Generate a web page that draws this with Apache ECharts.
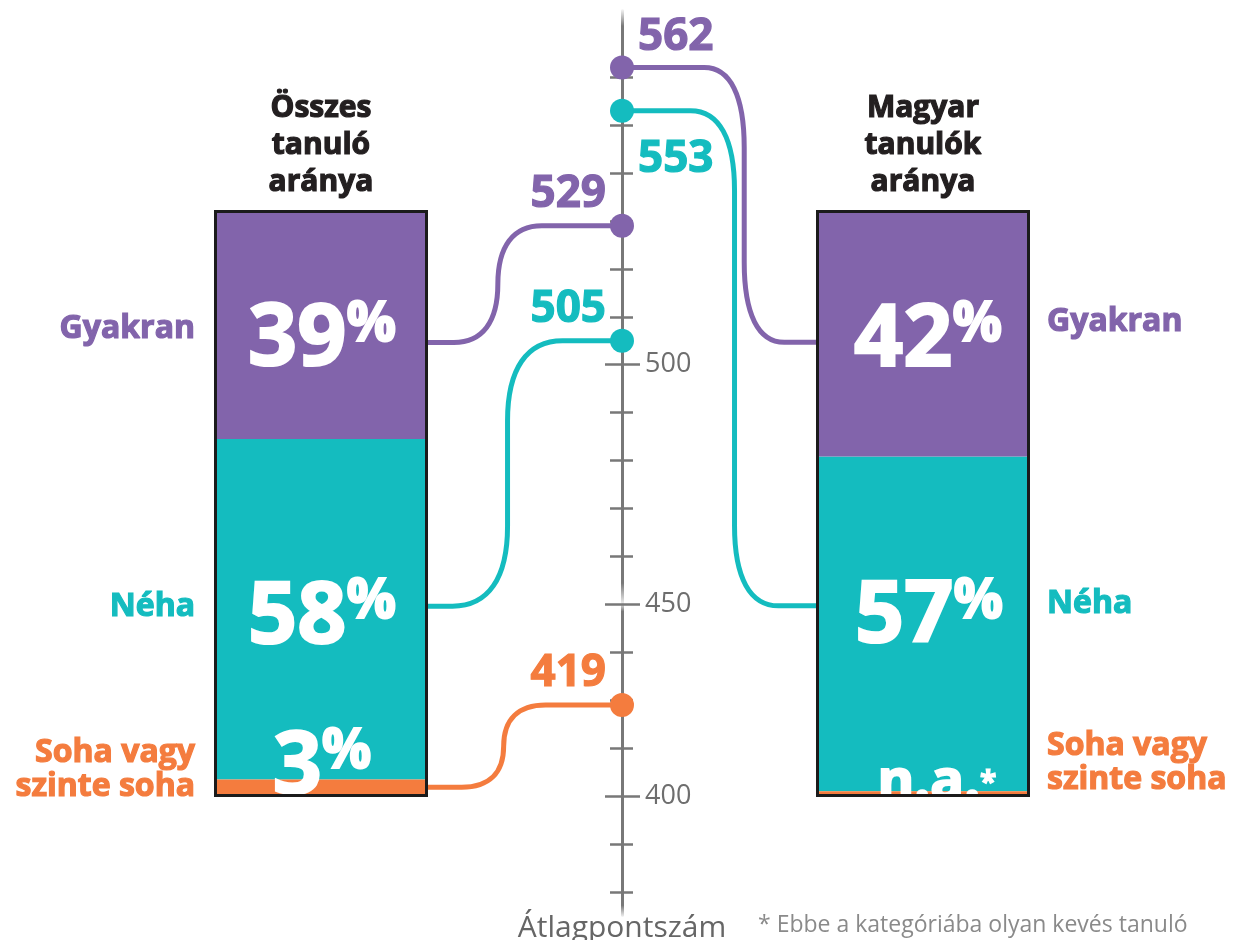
<!DOCTYPE html>
<html>
<head>
<meta charset="utf-8">
<script src="https://cdn.jsdelivr.net/npm/echarts@6.0.0/dist/echarts.min.js"></script>
<style>
html, body { margin: 0; padding: 0; background: #fff; }
#chart { width: 1233px; height: 940px; }
</style>
</head>
<body>
<div id="chart"></div>
<script>
// bars: all students vs hungarian-speaking students
var groupNames = ['Összes\ntanuló\naránya', 'Magyar\ntanulók\naránya'];
// categories, bottom to top of the stack
var categoryNames = ['Soha vagy\nszinte soha', 'Néha', 'Gyakran'];

// share of students (%), [all, hungarian]
var shareNever = [3, 1];
var shareSometimes = [58, 57];
var shareOften = [39, 42];
var shareNotAvailable = [[false, false, false], [true, false, false]];

// average score, [all, hungarian]
var scoreNever = [419, null];
var scoreSometimes = [505, 553];
var scoreOften = [529, 562];

// score axis
var scoreAxisLabels = [400, 450, 500];
var scoreAxisTicks = [380, 390, 400, 410, 420, 430, 450, 460, 470, 480, 490, 500, 510, 520, 530, 540, 550, 560];
var footnote = '* Ebbe a kategóriába olyan kevés tanuló';

// ---- layout / style ----
var F = '"Open Sans", "Noto Sans", sans-serif';
var COLORS = ['#f47c3e', '#14bcbf', '#8264ab'];
var GREY = '#787878';
var BAR_W = 214;
var AXIS_X = 0.5;
var SCORE_MIN = 375.2, SCORE_MAX = 574;
var SCORE_BREAKS = [{ start: 440, end: 450, gap: 0 }];
var PCT_MIN = -20.1, PCT_MAX = 134.07;

// [group][category] label offsets
var PCT_LABEL_SHIFT = [[[1, -20], [1, 9], [1, 16]], [[14, -11], [6, -6], [5, 8]]];
var NAME_LABEL_SHIFT = [[-18, -2, 4], [-31, -20, -11]];
var SCORE_LABEL = [[['left', -32], ['left', -31], ['left', -31]], [null, ['right', 49], ['right', -30]]];
var CONNECTOR = [
    [{ dy: -1, frac: 0.39, w: 42 }, { dy: -3, frac: 0.41, w: 55 }, { dy: 18, frac: 0.36, w: 44 }],
    [null, { dy: -18, frac: 0.58, w: 44 }, { dy: 9, frac: 0.63, w: 40 }]
];

var shares = [shareNever, shareSometimes, shareOften];
var scores = [scoreNever, scoreSometimes, scoreOften];

var chart = echarts.init(document.getElementById('chart'));

function segMid(g, c) {
    var base = 0;
    for (var i = 0; i < c; i++) base += shares[i][g];
    return base + shares[c][g] / 2;
}

function sPath(p0, p1, xc, w) {
    var y0 = p0[1], y1 = p1[1];
    var dir = y1 > y0 ? 1 : -1;
    var ry = Math.min(Math.abs(y1 - y0) / 2, 80);
    return 'M' + p0[0] + ' ' + y0 +
        ' L' + (xc - w) + ' ' + y0 +
        ' C' + (xc - 0.35 * w) + ' ' + y0 + ' ' + xc + ' ' + (y0 + dir * 0.35 * ry) + ' ' + xc + ' ' + (y0 + dir * ry) +
        ' L' + xc + ' ' + (y1 - dir * ry) +
        ' C' + xc + ' ' + (y1 - dir * 0.35 * ry) + ' ' + (xc + 0.35 * w) + ' ' + y1 + ' ' + (xc + w) + ' ' + y1 +
        ' L' + p1[0] + ' ' + y1;
}

function heavy(color, size) {
    return {
        fontFamily: F, fontWeight: 'bold', fontSize: size, color: color,
        textBorderColor: color, textBorderWidth: size > 50 ? 2.2 : 1.2
    };
}

var RICH_PCT = {
    big: Object.assign(heavy('#fff', 86), { lineHeight: 86 }),
    pct: Object.assign(heavy('#fff', 55), { lineHeight: 72, verticalAlign: 'top' }),
    na: Object.assign(heavy('#fff', 56), { lineHeight: 56 }),
    star: Object.assign(heavy('#fff', 30), {})
};

var series = [];

// coloured stacked segments
shares.forEach(function (arr, c) {
    series.push({
        type: 'bar', name: categoryNames[c], stack: 'share',
        xAxisIndex: 0, yAxisIndex: 0, barWidth: BAR_W, barGap: '-100%',
        z: c === 0 ? 3 : 2, silent: true,
        itemStyle: { color: COLORS[c] },
        label: { show: true, position: 'inside', rich: RICH_PCT },
        data: arr.map(function (v, g) {
            return {
                value: v,
                label: {
                    offset: PCT_LABEL_SHIFT[g][c],
                    formatter: shareNotAvailable[g][c] ? '{na|n.a.}{star|*}' : '{big|' + v + '}{pct|%}'
                }
            };
        })
    });
});

// category names beside the bars
shares.forEach(function (arr, c) {
    series.push({
        type: 'bar', stack: 'names',
        xAxisIndex: 0, yAxisIndex: 0, barWidth: BAR_W, barGap: '-100%',
        z: 1, silent: true,
        itemStyle: { color: 'rgba(0,0,0,0)' },
        label: Object.assign(heavy(COLORS[c], 32), {
            show: true, formatter: categoryNames[c], lineHeight: 34
        }),
        data: arr.map(function (v, g) {
            return {
                value: v,
                label: {
                    position: g === 0 ? 'left' : 'right',
                    distance: g === 0 ? 19 : 17,
                    offset: [0, NAME_LABEL_SHIFT[g][c]]
                }
            };
        })
    });
});

// black frame round each bar
series.push({
    type: 'bar', xAxisIndex: 0, yAxisIndex: 0, barWidth: BAR_W, barGap: '-100%',
    z: 5, silent: true,
    itemStyle: { color: 'rgba(0,0,0,0)', borderColor: '#1b1b1b', borderWidth: 3 },
    data: groupNames.map(function (n, g) {
        return shares.reduce(function (s, a) { return s + a[g]; }, 0);
    })
});

// connectors and score points
var pointData = [];
groupNames.forEach(function (n, g) {
    scores.forEach(function (arr, c) {
        if (arr[g] != null) pointData.push({ g: g, c: c, score: arr[g] });
    });
});

series.push({
    type: 'custom', xAxisIndex: 1, yAxisIndex: 1, z: 6, silent: true,
    encode: { x: 0, y: 1 },
    data: pointData.map(function (p) { return [AXIS_X, p.score, p.g, p.c]; }),
    renderItem: function (params, api) {
        var g = api.value(2), c = api.value(3);
        var axisPt = api.coord([AXIS_X, api.value(1)]);
        var barPt = chart.convertToPixel({ seriesIndex: 0 }, [g, segMid(g, c)]);
        var lay = CONNECTOR[g][c];
        var by = barPt[1] + lay.dy;
        var p0, p1;
        if (g === 0) {
            p0 = [barPt[0] + BAR_W / 2, by];
            p1 = axisPt;
        } else {
            p0 = axisPt;
            p1 = [barPt[0] - BAR_W / 2, by];
        }
        var xc = p0[0] + lay.frac * (p1[0] - p0[0]);
        return {
            type: 'path',
            shape: { pathData: sPath(p0, p1, xc, lay.w) },
            style: { stroke: COLORS[c], lineWidth: 5, fill: 'none' }
        };
    }
});

series.push({
    type: 'scatter', xAxisIndex: 1, yAxisIndex: 1, symbolSize: 24, z: 7, silent: true,
    itemStyle: { opacity: 1 },
    data: pointData.map(function (p) {
        var lab = SCORE_LABEL[p.g][p.c];
        return {
            value: [AXIS_X, p.score],
            itemStyle: { color: COLORS[p.c], opacity: 1 },
            label: Object.assign(heavy(COLORS[p.c], 44), {
                show: true, position: lab[0], distance: 4, offset: [0, lab[1]],
                formatter: String(p.score)
            })
        };
    })
});

function scoreAxis(extra) {
    var base = {
        type: 'value', gridIndex: 0, position: 'left', offset: -602,
        min: SCORE_MIN, max: SCORE_MAX,
        breaks: SCORE_BREAKS,
        breakArea: { show: false },
        splitLine: { show: false },
        axisLine: { show: false },
        axisTick: { show: false },
        axisLabel: { show: false }
    };
    for (var k in extra) base[k] = extra[k];
    return base;
}

var tickStyle = { color: GREY, width: 2.5 };

var option = {
    animation: false,
    backgroundColor: '#fff',
    grid: { left: 20, width: 1204, top: 10, height: 905, outerBoundsMode: 'none' },
    xAxis: [
        {
            type: 'category', gridIndex: 0, position: 'top', data: groupNames,
            axisLine: { show: false }, axisTick: { show: false }, splitLine: { show: false },
            axisLabel: Object.assign(heavy('#231f20', 30), {
                inside: true, margin: 80, lineHeight: 37
            })
        },
        { type: 'value', gridIndex: 0, min: 0, max: 1, show: false }
    ],
    yAxis: [
        { type: 'value', gridIndex: 0, min: PCT_MIN, max: PCT_MAX, show: false },
        scoreAxis({
            name: 'Átlagpontszám', nameLocation: 'start', nameGap: 13,
            nameTextStyle: { fontFamily: F, fontSize: 30, color: '#666', align: 'center', verticalAlign: 'middle' },
            axisLine: {
                show: true,
                lineStyle: {
                    width: 3,
                    color: new echarts.graphic.LinearGradient(0, 0, 0, 1, [
                        { offset: 0, color: 'rgba(120,120,120,0)' },
                        { offset: 0.03, color: GREY },
                        { offset: 0.96, color: GREY },
                        { offset: 1, color: 'rgba(120,120,120,0)' }
                    ])
                }
            },
            axisTick: { show: true, length: 12, customValues: scoreAxisTicks, lineStyle: tickStyle }
        }),
        scoreAxis({
            axisTick: { show: true, inside: true, length: 11, customValues: scoreAxisTicks, lineStyle: tickStyle }
        }),
        scoreAxis({
            axisTick: { show: true, length: 17, customValues: scoreAxisLabels, lineStyle: tickStyle }
        }),
        scoreAxis({
            axisTick: { show: true, inside: true, length: 18, customValues: scoreAxisLabels, lineStyle: tickStyle },
            axisLabel: {
                show: true, inside: true, margin: 23, customValues: scoreAxisLabels,
                color: '#6e6e6e', fontFamily: F, fontSize: 27
            }
        })
    ],
    graphic: [{
        type: 'text', left: 758, top: 914, silent: true,
        style: { text: footnote, fontFamily: F, fontSize: 23, fill: '#8a8a8a' }
    }],
    series: series
};

chart.setOption(option);
</script>
</body>
</html>
